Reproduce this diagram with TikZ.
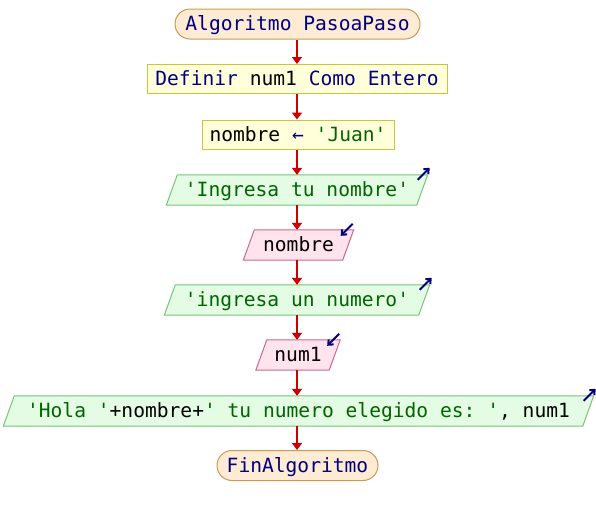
\documentclass[tikz,border=0pt]{standalone}
\usepackage{fontspec}
\setmonofont{DejaVu Sans Mono}
\usetikzlibrary{arrows.meta,backgrounds}

\definecolor{kw}{HTML}{000080}
\definecolor{str}{HTML}{006400}
\definecolor{termfill}{HTML}{FDEBD3}
\definecolor{termline}{HTML}{CC9955}
\definecolor{procfill}{HTML}{FFFFDA}
\definecolor{procline}{HTML}{C8C448}
\definecolor{outfill}{HTML}{E4FCE4}
\definecolor{outline}{HTML}{77C477}
\definecolor{infill}{HTML}{FFE4EE}
\definecolor{inline}{HTML}{CC6690}
\definecolor{flowred}{HTML}{CC0000}

\tikzset{
  base/.style={inner sep=0pt, text height=14pt, text depth=0.5pt,
    font=\ttfamily\fontsize{19.6pt}{21pt}\selectfont, minimum height=30pt},
  term/.style={base, draw=termline, fill=termfill, rounded corners=15pt, line width=1pt},
  proc/.style={base, draw=procline, fill=procfill, line width=1pt, minimum height=29pt},
  slot/.style={base},
  outshape/.style={draw=outline, fill=outfill, line width=1pt},
  inshape/.style={draw=inline, fill=infill, line width=1pt},
  flow/.style={draw=flowred, line width=2pt, -{Triangle[length=7pt,width=10pt]}},
  ioicon/.style={draw=kw, line width=2pt, -{Straight Barb[length=4pt,width=7pt]}},
}

\begin{document}
\begin{tikzpicture}[x=1pt,y=-1pt]
\useasboundingbox (0,0) rectangle (596,515);

% blocks of the flowchart
\node[term, minimum width=245pt] (start) at (297.5,24) {\color{kw}Algoritmo PasoaPaso};
\node[proc, minimum width=300pt] (decl) at (297,79) {{\color{kw}Definir} num1 {\color{kw}Como Entero}};
\node[proc, minimum width=192pt] (asig) at (298,134.5) {nombre {\color{kw}←} {\color{str}'Juan'}};
\node[slot, minimum width=250pt] (out1) at (297,190) {\color{str}'Ingresa tu nombre'};
\node[slot, minimum width=99pt] (in1) at (298.5,245) {nombre};
\node[slot, minimum width=254pt] (out2) at (297,300) {\color{str}'ingresa un numero'};
\node[slot, minimum width=73pt] (in2) at (298,355) {num1};
\node[slot, minimum width=579pt] (out3) at (298.5,411) {{\color{str}'Hola '}+nombre+{\color{str}' tu numero elegido es: '}, num1};
\node[term, minimum width=161pt] (fin) at (297.5,465.5) {\color{kw}FinAlgoritmo};

% slanted input / output shapes behind their text
\begin{scope}[on background layer]
  \foreach \n/\s in {out1/outshape, in1/inshape, out2/outshape, in2/inshape, out3/outshape} {
    \path[\s] ([xshift=-5.5pt]\n.south west) -- ([xshift=-5.5pt]\n.south east)
      -- ([xshift=5.5pt]\n.north east) -- ([xshift=5.5pt]\n.north west) -- cycle;
  }
\end{scope}

% output markers (arrow leaving the shape)
\foreach \n in {out1, out2, out3} {
  \draw[ioicon] ([xshift=-4.5pt,yshift=-5pt]\n.north east) -- ([xshift=7.5pt,yshift=7pt]\n.north east);
}
% input markers (arrow entering the shape)
\foreach \n in {in1, in2} {
  \draw[ioicon] ([xshift=4.5pt,yshift=6pt]\n.north east) -- ([xshift=-7.5pt,yshift=-6pt]\n.north east);
}

% control flow, all on the vertical axis of the declaration box
\draw[flow] (decl.north |- start.south) -- (decl.north);
\draw[flow] (decl.south) -- (decl.south |- asig.north);
\draw[flow] (decl.south |- asig.south) -- (decl.south |- out1.north);
\draw[flow] (decl.south |- out1.south) -- (decl.south |- in1.north);
\draw[flow] (decl.south |- in1.south) -- (decl.south |- out2.north);
\draw[flow] (decl.south |- out2.south) -- (decl.south |- in2.north);
\draw[flow] (decl.south |- in2.south) -- (decl.south |- out3.north);
\draw[flow] (decl.south |- out3.south) -- (decl.south |- fin.north);
\end{tikzpicture}
\end{document}
